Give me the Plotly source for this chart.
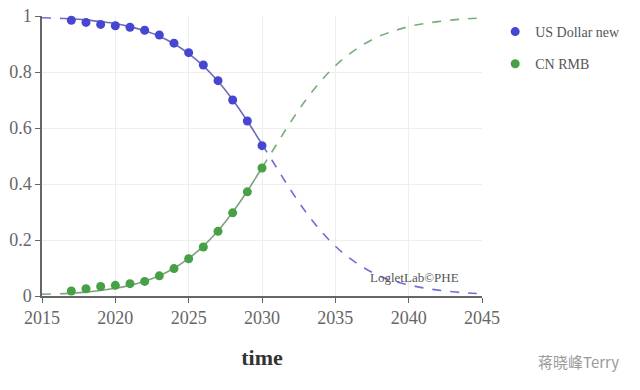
import plotly.graph_objects as go

# observed data points
years_obs = [2017, 2018, 2019, 2020, 2021, 2022, 2023, 2024, 2025, 2026, 2027, 2028, 2029, 2030]
usd_obs = [0.985, 0.977, 0.970, 0.965, 0.960, 0.949, 0.932, 0.903, 0.869, 0.825, 0.769, 0.700, 0.625, 0.537]
rmb_obs = [0.018, 0.026, 0.034, 0.038, 0.044, 0.052, 0.072, 0.098, 0.133, 0.175, 0.231, 0.297, 0.372, 0.457]

# fitted curve
fit_years_pre = [2015, 2016.5]
usd_fit_pre = [0.994, 0.991]
rmb_fit_pre = [0.006, 0.0085]

fit_years_solid = [2016.5, 2017, 2018, 2019, 2020, 2021, 2022, 2023, 2024, 2025, 2026, 2027, 2028, 2029, 2030]
usd_fit_solid = [0.991, 0.990, 0.986, 0.980, 0.973, 0.962, 0.947, 0.928, 0.901, 0.866, 0.822, 0.767, 0.701, 0.625, 0.542]
rmb_fit_solid = [0.0085, 0.010, 0.014, 0.0196, 0.0274, 0.038, 0.0527, 0.0724, 0.099, 0.134, 0.178, 0.233, 0.299, 0.375, 0.458]

fit_years_dash = [2030, 2031, 2032, 2033, 2034, 2035, 2036, 2037, 2038, 2039, 2040, 2041, 2042, 2043, 2044, 2045]
usd_fit_dash = [0.542, 0.458, 0.375, 0.299, 0.233, 0.178, 0.134, 0.099, 0.072, 0.053, 0.040, 0.029, 0.021, 0.015, 0.011, 0.008]
rmb_fit_dash = [0.458, 0.542, 0.625, 0.701, 0.767, 0.822, 0.866, 0.901, 0.928, 0.947, 0.962, 0.9726, 0.980, 0.986, 0.990, 0.993]

x_ticks = [2015, 2020, 2025, 2030, 2035, 2040, 2045]
y_ticks = [0, 0.2, 0.4, 0.6, 0.8, 1]
y_tick_text = ["0", "0.2", "0.4", "0.6", "0.8", "1"]

SERIF = "Liberation Serif, Times New Roman, serif"
BLUE = "#4646d2"
GREEN = "#46a046"
BLUE_LINE = "#6c6cba"
GREEN_LINE = "#7fa27f"
BLUE_DASH = "#6e6ed8"
GREEN_DASH = "#78ac78"

fig = go.Figure()

# lines
for xs, ys, col, dash in [
    (fit_years_pre, usd_fit_pre, BLUE_DASH, "dash"),
    (fit_years_pre, rmb_fit_pre, GREEN_DASH, "dash"),
    (fit_years_solid, usd_fit_solid, BLUE_LINE, "solid"),
    (fit_years_solid, rmb_fit_solid, GREEN_LINE, "solid"),
    (fit_years_dash, usd_fit_dash, BLUE_DASH, "dash"),
    (fit_years_dash, rmb_fit_dash, GREEN_DASH, "dash"),
]:
    fig.add_trace(go.Scatter(x=xs, y=ys, mode="lines", showlegend=False,
                             line=dict(color=col, width=1.6, dash=dash, shape="spline"),
                             hoverinfo="skip", cliponaxis=False))

fig.add_trace(go.Scatter(x=years_obs, y=usd_obs, mode="markers", name="US Dollar new",
                         legendgroup="a", cliponaxis=False,
                         marker=dict(color=BLUE, size=9)))
fig.add_trace(go.Scatter(x=years_obs, y=rmb_obs, mode="markers", name="CN RMB",
                         legendgroup="b", cliponaxis=False,
                         marker=dict(color=GREEN, size=9)))

fig.add_annotation(x=2040.4, y=0.065, xref="x", yref="y", text="LogletLab©PHE",
                   showarrow=False, font=dict(family=SERIF, size=13, color="#555"))
fig.add_annotation(x=(578 - 42) / 440, y=-(361 - 296) / 280, xref="paper", yref="paper",
                   text="蒋晓峰Terry", xanchor="center", yanchor="middle",
                   showarrow=False, font=dict(family="Noto Sans CJK SC", size=15, color="#9a9a9a"))

fig.update_layout(
    width=640, height=390,
    margin=dict(l=42, r=158, t=16, b=94, autoexpand=False),
    plot_bgcolor="white", paper_bgcolor="white",
    font=dict(family=SERIF, color="#555"),
    legend=dict(x=1.03, y=1.0, xanchor="left", yanchor="top",
                font=dict(family=SERIF, size=14, color="#555"),
                tracegroupgap=11, bgcolor="rgba(0,0,0,0)"),
    xaxis=dict(range=[2015, 2045], tickvals=x_ticks, showgrid=True, gridcolor="#eeeeee",
               showline=True, linecolor="#666", linewidth=1.5, ticks="outside", ticklen=5,
               tickcolor="#666", tickfont=dict(family=SERIF, size=18, color="#666"), zeroline=False,
               automargin=False,
               title=dict(text="<b>time</b>", font=dict(family=SERIF, size=22, color="#333"), standoff=22)),
    yaxis=dict(range=[0, 1], tickvals=y_ticks, ticktext=y_tick_text, showgrid=True,
               gridcolor="#eeeeee", showline=True, linecolor="#666", linewidth=1.5,
               ticks="outside", ticklen=5, tickcolor="#666", automargin=False,
               tickfont=dict(family=SERIF, size=18, color="#666"), zeroline=False),
)

fig.write_html("out.html")
